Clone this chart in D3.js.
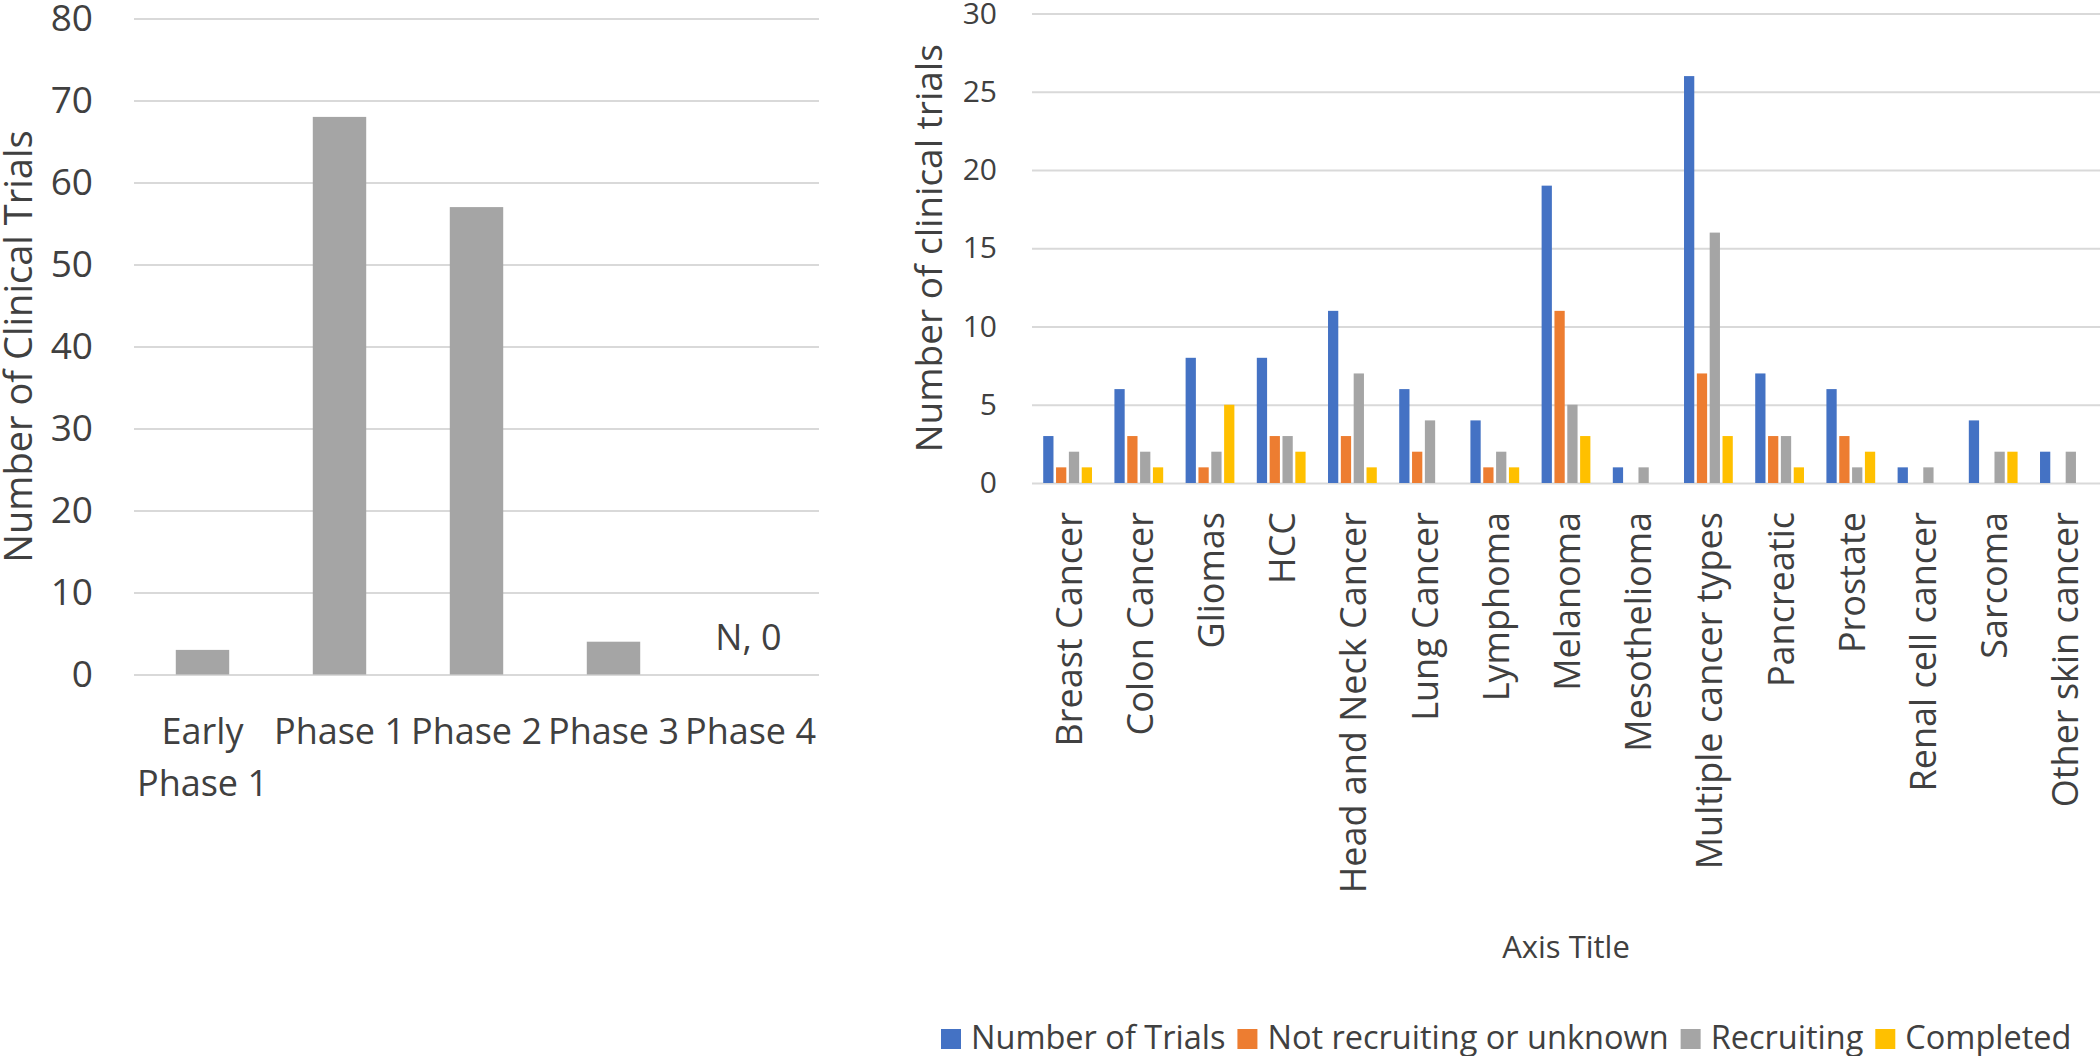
<!DOCTYPE html>
<html>
<head>
<meta charset="utf-8">
<script src="https://cdn.jsdelivr.net/npm/d3@7"></script>
<style>
  html, body { margin: 0; padding: 0; background: #ffffff; }
  svg { display: block; }
  text { font-family: "Open Sans", "Noto Sans", sans-serif; fill: #404040; }
</style>
</head>
<body>
<svg id="chart" width="2100" height="1056"></svg>
<script>
// ---------------- Data ----------------
const phaseCategories = ["Early Phase 1", "Phase 1", "Phase 2", "Phase 3", "Phase 4"];
const phaseLabelLines = [["Early", "Phase 1"], ["Phase 1"], ["Phase 2"], ["Phase 3"], ["Phase 4"]];
const phaseValues = [3, 68, 57, 4, 0];
const phaseAnnotationCategory = "Phase 4";
const phaseAnnotationText = "N, 0";
const leftYTicks = [0, 10, 20, 30, 40, 50, 60, 70, 80];
const leftYTitle = "Number of Clinical Trials";

const cancerCategories = ["Breast Cancer", "Colon Cancer", "Gliomas", "HCC", "Head and Neck Cancer",
  "Lung Cancer", "Lymphoma", "Melanoma", "Mesothelioma", "Multiple cancer types", "Pancreatic",
  "Prostate", "Renal cell cancer", "Sarcoma", "Other skin cancer"];
const seriesNames = ["Number of Trials", "Not recruiting or unknown", "Recruiting", "Completed"];
const numberOfTrials = [3, 6, 8, 8, 11, 6, 4, 19, 1, 26, 7, 6, 1, 4, 2];
const notRecruiting  = [1, 3, 1, 3, 3, 2, 1, 11, 0, 7, 3, 3, 0, 0, 0];
const recruiting     = [2, 2, 2, 3, 7, 4, 2, 5, 1, 16, 3, 1, 1, 2, 2];
const completed      = [1, 1, 5, 2, 1, 0, 1, 3, 0, 3, 1, 2, 0, 2, 0];
const seriesColors = ["#4472C4", "#ED7D31", "#A5A5A5", "#FFC000"];
const rightYTicks = [0, 5, 10, 15, 20, 25, 30];
const rightYTitle = "Number of clinical trials";
const rightXTitle = "Axis Title";

// ---------------- Drawing ----------------
const svg = d3.select("#chart");
const gridColor = "#D9D9D9";

// ===== Left chart =====
const L = { left: 134, right: 819, top: 18.5, bottom: 674.5 };
const xL = d3.scaleBand().domain(phaseCategories).range([L.left, L.right])
  .paddingInner(0.61).paddingOuter(0.305);
const yL = d3.scaleLinear().domain([0, 80]).range([L.bottom, L.top]);

const gL = svg.append("g");
const axL = d3.axisLeft(yL).tickValues(leftYTicks).tickSize(-(L.right - L.left)).tickPadding(41);
const gAxL = gL.append("g").attr("transform", `translate(${L.left},0)`).call(axL);
gAxL.select(".domain").remove();
gAxL.selectAll(".tick line").attr("stroke", gridColor).attr("stroke-width", 2);
gAxL.selectAll(".tick text").attr("font-size", 37).attr("fill", "#404040")
  .attr("font-family", "Open Sans");

gL.selectAll("rect.bar").data(phaseCategories).join("rect")
  .attr("class", "bar")
  .attr("x", d => xL(d))
  .attr("width", xL.bandwidth())
  .attr("y", (d, i) => yL(phaseValues[i]))
  .attr("height", (d, i) => yL(0) - yL(phaseValues[i]))
  .attr("fill", "#A5A5A5");

// annotation
gL.append("text")
  .attr("x", xL(phaseAnnotationCategory) + xL.bandwidth() / 2 - 2)
  .attr("y", yL(0) - 25)
  .attr("text-anchor", "middle")
  .attr("font-size", 36)
  .text(phaseAnnotationText);

// x labels
phaseCategories.forEach((c, i) => {
  const t = gL.append("text")
    .attr("text-anchor", "middle")
    .attr("font-size", 36);
  phaseLabelLines[i].forEach((line, k) => {
    t.append("tspan")
      .attr("x", xL(c) + xL.bandwidth() / 2)
      .attr("y", 744 + k * 52)
      .text(line);
  });
});

// y title
gL.append("text")
  .attr("transform", `translate(32,${(L.top + L.bottom) / 2}) rotate(-90)`)
  .attr("text-anchor", "middle")
  .attr("font-size", 38)
  .text(leftYTitle);

// ===== Right chart =====
const R = { left: 1032, right: 2100, top: 13.5, bottom: 483 };
const x0 = d3.scaleBand().domain(cancerCategories).range([R.left, R.right])
  .paddingInner(0.315).paddingOuter(0.1575);
const x1 = d3.scaleBand().domain(seriesNames).range([0, x0.bandwidth()]).paddingInner(0.2);
const yR = d3.scaleLinear().domain([0, 30]).range([R.bottom, R.top]);

const gR = svg.append("g");
const axR = d3.axisLeft(yR).tickValues(rightYTicks).tickSize(-(R.right - R.left)).tickPadding(35);
const gAxR = gR.append("g").attr("transform", `translate(${R.left},0)`).call(axR);
gAxR.select(".domain").remove();
gAxR.selectAll(".tick line").attr("stroke", gridColor).attr("stroke-width", 2);
gAxR.selectAll(".tick text").attr("font-size", 30).attr("fill", "#404040")
  .attr("font-family", "Open Sans");

const seriesValues = [numberOfTrials, notRecruiting, recruiting, completed];
const rows = [];
cancerCategories.forEach((c, i) => {
  seriesNames.forEach((s, j) => {
    rows.push({ cat: c, series: s, value: seriesValues[j][i], color: seriesColors[j] });
  });
});
gR.selectAll("rect.bar").data(rows).join("rect")
  .attr("class", "bar")
  .attr("x", d => x0(d.cat) + x1(d.series))
  .attr("width", x1.bandwidth())
  .attr("y", d => yR(d.value))
  .attr("height", d => yR(0) - yR(d.value))
  .attr("fill", d => d.color);

// x labels (rotated)
cancerCategories.forEach(c => {
  const cx = x0(c) + x0.bandwidth() / 2 + 1;
  gR.append("text")
    .attr("transform", `translate(${cx + 13},512) rotate(-90)`)
    .attr("text-anchor", "end")
    .attr("font-size", 36)
    .text(c);
});

// y title
gR.append("text")
  .attr("transform", `translate(942,${(R.top + R.bottom) / 2}) rotate(-90)`)
  .attr("text-anchor", "middle")
  .attr("font-size", 37)
  .text(rightYTitle);

// x title
gR.append("text")
  .attr("x", (R.left + R.right) / 2)
  .attr("y", 958)
  .attr("text-anchor", "middle")
  .attr("font-size", 31)
  .text(rightXTitle);

// legend
const legend = svg.append("g").attr("transform", "translate(941,0)");
const legendFont = 32.5, sq = 20, sqGap = 10, itemGap = 12;
let cursor = 0;
seriesNames.forEach((s, j) => {
  const g = legend.append("g");
  g.append("rect").attr("x", 0).attr("y", 1029).attr("width", sq).attr("height", sq)
    .attr("fill", seriesColors[j]);
  const t = g.append("text").attr("x", sq + sqGap).attr("y", 1049)
    .attr("font-size", legendFont).text(s);
  const w = t.node().getComputedTextLength();
  g.attr("transform", `translate(${cursor},0)`);
  cursor += sq + sqGap + w + itemGap;
});
</script>
</body>
</html>
